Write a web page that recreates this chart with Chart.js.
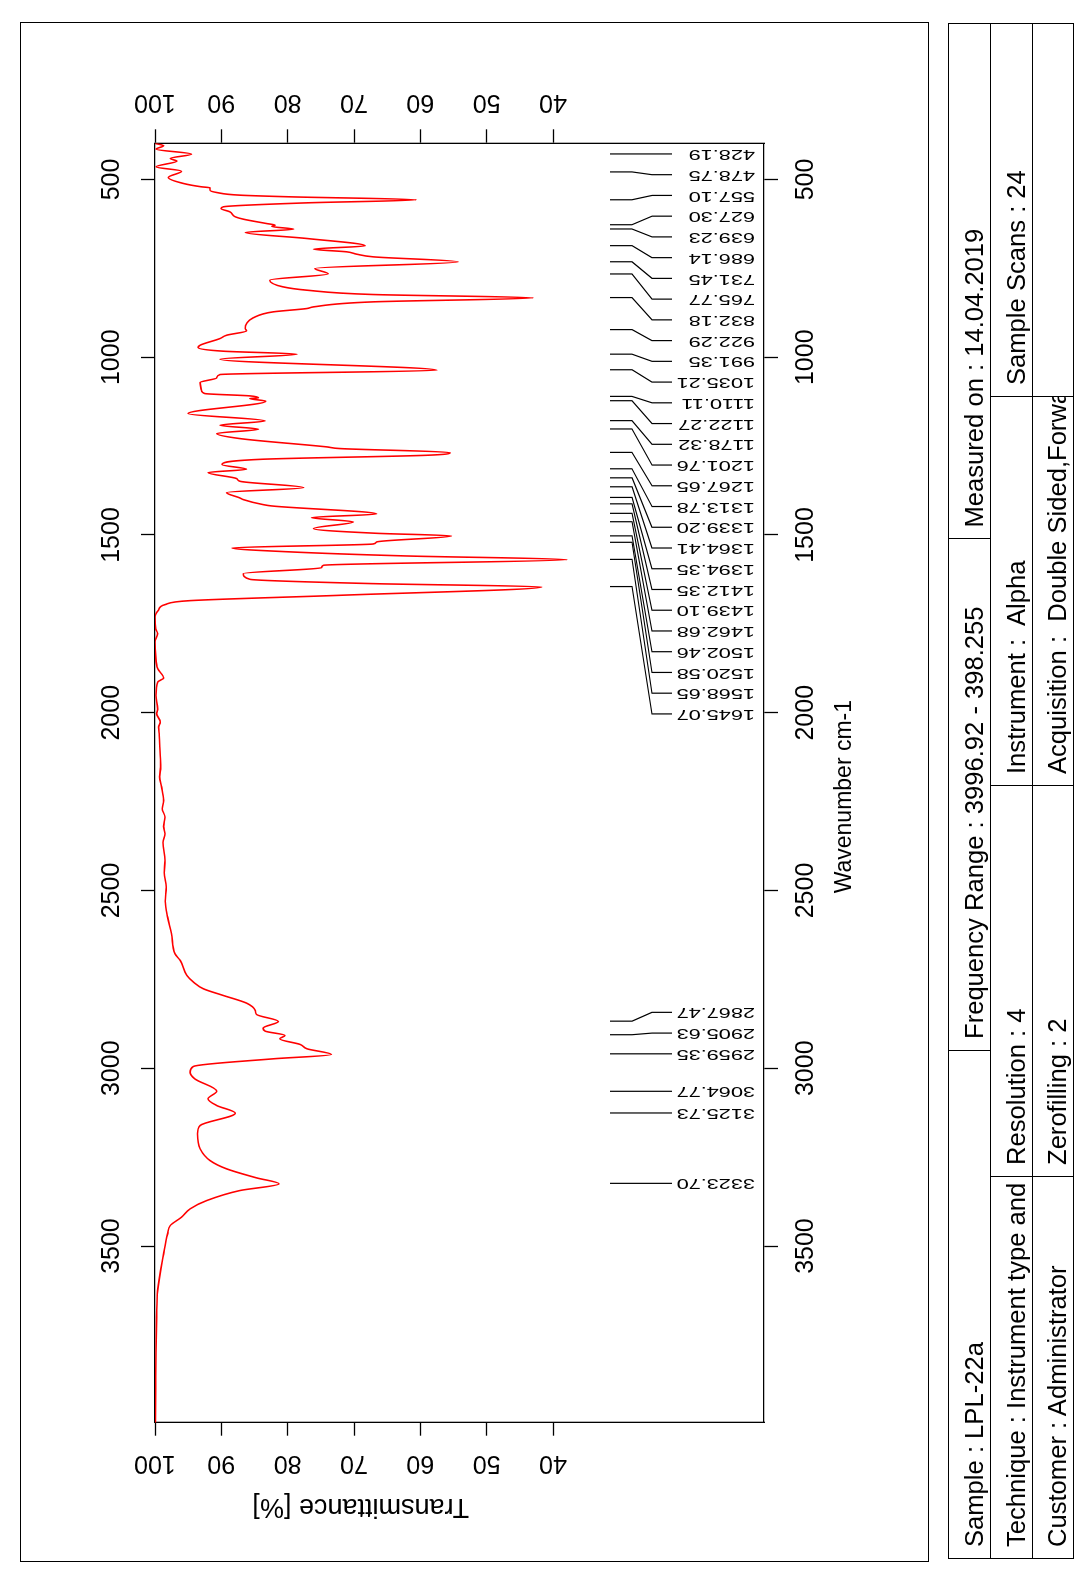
<!DOCTYPE html>
<html>
<head>
<meta charset="utf-8">
<title>IR spectrum LPL-22a</title>
<script src="https://cdn.jsdelivr.net/npm/chart.js@4.4.1/dist/chart.umd.min.js"></script>
<style>
html,body{margin:0;padding:0;background:#fff;}
body{width:1088px;height:1575px;overflow:hidden;position:relative;}
#page{position:absolute;left:0;top:0;width:1575px;height:1088px;transform-origin:0 0;transform:translate(0px,1575px) rotate(-90deg);font-family:"Liberation Sans",Arial,Helvetica,sans-serif;color:#000;background:#fff;}
#chart{position:absolute;left:0;top:0;width:1575px;height:1088px;}
.frame{position:absolute;border:1.5px solid #000;box-sizing:border-box;}
.cell{position:absolute;box-sizing:border-box;border:1.5px solid #000;overflow:hidden;white-space:pre;font-size:25.6px;padding-left:11px;}
</style>
</head>
<body>
<div id="page">
  <div class="frame" style="left:13px;top:20px;width:1540px;height:909px;"></div>
  <canvas id="chart" width="1575" height="1088"></canvas>
  <div id="table"></div>
</div>
<script>
// ---------- data ----------
const wavenumber = [398.3,405.3,414.6,428.7,440.9,448.4,464.4,476.6,494.4,511.3,520.6,523.4,530.0,536.6,544.1,548.8,557.2,565.7,576.9,581.6,591.0,605.0,611.6,623.8,628.5,632.2,639.7,649.1,666.0,686.6,696.0,703.5,710.1,717.6,731.7,750.4,765.4,783.2,802.0,811.4,823.6,833.0,844.2,858.3,863.0,872.4,889.2,905.2,919.2,925.8,938.0,947.4,966.2,972.7,983.0,991.5,1005.6,1036.5,1048.7,1058.1,1071.2,1092.8,1102.1,1108.7,1114.3,1116.2,1123.7,1158.4,1179.1,1191.3,1202.5,1214.7,1228.8,1252.2,1256.9,1268.2,1275.7,1287.0,1302.0,1315.1,1324.5,1341.4,1348.9,1366.7,1380.7,1395.8,1400.4,1414.5,1418.3,1440.8,1451.1,1463.3,1482.0,1495.2,1502.7,1519.6,1525.2,1536.4,1547.0,1559.0,1569.3,1585.2,1591.8,1608.7,1624.6,1636.8,1646.2,1669.6,1684.6,1695.9,1711.8,1730.6,1763.4,1777.5,1800.9,1838.5,1876.0,1902.2,1913.5,1951.0,1988.5,2002.6,2025.9,2040.1,2063.5,2105.8,2152.7,2180.0,2208.9,2246.5,2270.0,2293.4,2320.0,2340.3,2365.0,2415.3,2450.0,2490.3,2530.0,2574.7,2621.6,2677.9,2696.7,2738.9,2757.7,2776.4,2795.2,2816.8,2837.4,2848.6,2868.3,2887.1,2895.5,2907.7,2917.1,2933.1,2945.2,2961.2,2973.4,2994.9,3010.9,3029.7,3064.4,3085.9,3104.7,3126.3,3161.0,3184.4,3226.6,3259.5,3282.9,3308.2,3325.1,3343.9,3372.0,3395.4,3418.9,3442.3,3465.8,3522.1,3625.2,3700.0,3800.0,3900.0,3996.9];
const transmittance = [100.0,98.7,99.85,94.5,97.7,96.7,99.85,96.0,98.0,95.7,93.0,91.7,91.7,90.7,87.2,79.6,60.6,77.1,89.7,90.05,88.7,87.9,86.7,83.2,81.9,82.4,79.1,86.4,77.1,68.3,76.1,71.1,69.6,67.1,54.3,75.9,73.9,82.7,80.7,77.1,67.1,43.0,67.1,76.1,77.1,82.2,85.2,86.2,86.4,86.2,89.2,90.2,93.2,93.5,89.7,78.6,90.2,57.5,90.2,90.7,93.2,93.0,92.5,85.7,84.4,85.7,83.3,95.0,83.4,90.2,84.4,90.7,87.2,74.1,72.1,55.5,59.0,83.9,89.9,86.2,92.0,87.7,87.2,77.6,89.2,87.2,86.7,83.7,82.4,66.6,76.4,70.1,76.1,66.6,55.3,66.6,67.1,88.4,80.2,62.0,37.9,74.6,74.9,86.7,85.7,67.1,41.7,72.1,94.7,98.5,99.5,100.0,99.9,99.6,100.0,99.9,99.6,98.7,99.6,99.85,99.6,99.75,99.2,99.45,99.35,99.25,99.15,99.3,99.0,98.7,98.9,98.5,98.7,98.5,98.8,98.5,98.6,98.3,98.45,98.1,97.5,97.0,96.2,95.2,94.2,92.7,89.7,86.2,84.9,84.7,81.4,83.7,83.4,80.4,81.2,78.1,77.1,73.4,82.2,94.2,94.7,94.0,90.7,92.0,90.7,87.9,93.2,93.6,93.2,91.7,89.2,84.7,81.3,87.2,92.2,94.7,96.0,97.7,98.1,98.7,99.6,99.75,99.85,99.9,99.95];
const wnTicks = [500,1000,1500,2000,2500,3000,3500];
const tTicks = [40,50,60,70,80,90,100];
const peaksLow = ["428.19","478.75","557.10","627.30","639.23","686.14","731.45","765.77","832.18","922.29","991.35","1035.21","1110.11","1122.27","1178.32","1201.76","1267.65","1313.78","1339.20","1364.41","1394.35","1412.35","1439.10","1462.68","1502.46","1520.58","1568.65","1645.07"];
const peaksHigh = ["2867.47","2905.63","2959.35","3064.77","3125.73","3323.70"];
const row1 = ["Sample : LPL-22a","Frequency Range : 3996.92 - 398.255","Measured on : 14.04.2019"];
const row2 = ["Technique : Instrument type and Accessory","Resolution : 4","Instrument :  Alpha","Sample Scans : 24"];
const row3 = ["Customer : Administrator","Zerofilling : 2","Acquisition :  Double Sided,Forward-Backward",""];
const wnMin = 398.255, wnMax = 3996.92;

// ---------- layout ----------
const FONT = '"Liberation Sans", Arial, Helvetica, sans-serif';
const tickFont = {family: FONT, size: 25};
const mctx = document.createElement('canvas').getContext('2d');
mctx.font = '25px ' + FONT;
const widest = mctx.measureText('100').width;

// info table
(function(){
  const tbl = document.getElementById('table');
  const rowsY = [948, 990, 1032, 1073];
  const cols1 = [16, 524, 1035.5, 1551];
  const cols2 = [16, 398, 789, 1178, 1551];
  function addRow(texts, cols, r) {
    texts.forEach((t, i) => {
      const d = document.createElement('div');
      d.className = 'cell';
      const h = rowsY[r+1] - rowsY[r];
      d.style.cssText = `left:${cols[i]}px;top:${rowsY[r]}px;width:${cols[i+1]-cols[i]+1}px;height:${h+1}px;line-height:${h+8}px;`;
      d.textContent = t;
      tbl.appendChild(d);
    });
  }
  addRow(row1, cols1, 0);
  addRow(row2, cols2, 1);
  addRow(row3, cols2, 2);
})();

const points = wavenumber.map((w, i) => ({x: w, y: transmittance[i]})).reverse();

const peakPlugin = {
  id: 'peakLabels',
  afterDraw(chart) {
    const {ctx, chartArea: a, scales} = chart;
    const xs = scales.x, ys = scales.y;
    const d = 20.74;
    ctx.save();
    ctx.strokeStyle = '#000'; ctx.fillStyle = '#000'; ctx.lineWidth = 1.2;
    const low = peaksLow.map(s => ({s, px: xs.getPixelForValue(parseFloat(s))}));
    low.forEach((p, i) => { p.slot = low[0].px - i * d; });
    const high = peaksHigh.map(s => ({s, px: xs.getPixelForValue(parseFloat(s))}));
    for (let i = high.length - 1; i >= 0; i--) {
      high[i].slot = (i === high.length - 1) ? high[i].px : Math.max(high[i].px, high[i+1].slot + d);
    }
    low.concat(high).forEach(p => {
      ctx.beginPath();
      ctx.moveTo(p.px, a.bottom - 154);
      ctx.lineTo(p.px, a.bottom - 132);
      ctx.lineTo(p.slot, a.bottom - 112);
      ctx.lineTo(p.slot, a.bottom - 92);
      ctx.stroke();
      ctx.save();
      ctx.translate(p.slot, a.bottom - 9);
      ctx.rotate(-Math.PI / 2);
      ctx.scale(1.55, 1);
      ctx.font = '14px ' + FONT;
      ctx.textAlign = 'left'; ctx.textBaseline = 'middle';
      ctx.fillText(p.s, 0, 0);
      ctx.restore();
    });
    // transmittance axis title
    ctx.save();
    ctx.translate(a.left - 84, ys.getPixelForValue(69));
    ctx.rotate(-Math.PI / 2);
    ctx.font = '27px ' + FONT;
    ctx.textAlign = 'center'; ctx.textBaseline = 'middle';
    ctx.fillText('Transmittance [%]', 0, 0);
    ctx.restore();
    // wavenumber axis title
    ctx.save();
    ctx.font = '23px ' + FONT;
    ctx.textAlign = 'center'; ctx.textBaseline = 'middle';
    ctx.fillText('Wavenumber cm-1', xs.getPixelForValue(2236), a.bottom + 81);
    ctx.restore();
    ctx.restore();
  }
};

function wnAxis(position, height, pad) {
  return {
    type: 'linear', position, reverse: true, min: wnMin, max: wnMax,
    afterBuildTicks: s => { s.ticks = wnTicks.map(v => ({value: v})); },
    afterFit: s => { s.height = height; },
    grid: {display: true, drawOnChartArea: false, drawTicks: true, tickLength: 14, tickWidth: 1.3, tickColor: '#000', color: '#000'},
    border: {display: true, color: '#000', width: 1.3},
    ticks: {font: tickFont, color: '#000', padding: pad, maxRotation: 0, minRotation: 0, autoSkip: false, callback: v => String(v)},
    title: {display: false}
  };
}
function tAxis(position, width, tl, pad) {
  return {
    type: 'linear', position, min: 8.2, max: 100,
    afterBuildTicks: s => { s.ticks = tTicks.map(v => ({value: v})); },
    afterFit: s => { s.width = width; },
    grid: {display: true, drawOnChartArea: false, drawTicks: true, tickLength: tl, tickWidth: 1.3, tickColor: '#000', color: '#000'},
    border: {display: true, color: '#000', width: 1.3},
    ticks: {font: tickFont, color: '#000', padding: pad, minRotation: 90, maxRotation: 90, crossAlign: 'center', autoSkip: false, callback: v => String(v)}
  };
}

new Chart(document.getElementById('chart'), {
  type: 'scatter',
  data: {datasets: [{
    data: points, showLine: true, borderColor: '#ff0000', borderWidth: 1.6,
    pointRadius: 0, pointHoverRadius: 0, cubicInterpolationMode: 'monotone', fill: false
  }]},
  options: {
    responsive: false, animation: false, devicePixelRatio: 1,
    layout: {padding: 0},
    plugins: {legend: {display: false}, tooltip: {enabled: false}, title: {display: false}},
    scales: {
      x: wnAxis('bottom', 324, 13),
      x2: wnAxis('top', 155, 13.7),
      y: tAxis('left', 152.3, 13, 27.3 - widest / 2),
      y2: tAxis('right', 143.3, 14, 27.6 - widest / 2)
    }
  },
  plugins: [peakPlugin]
});
</script>
</body>
</html>
